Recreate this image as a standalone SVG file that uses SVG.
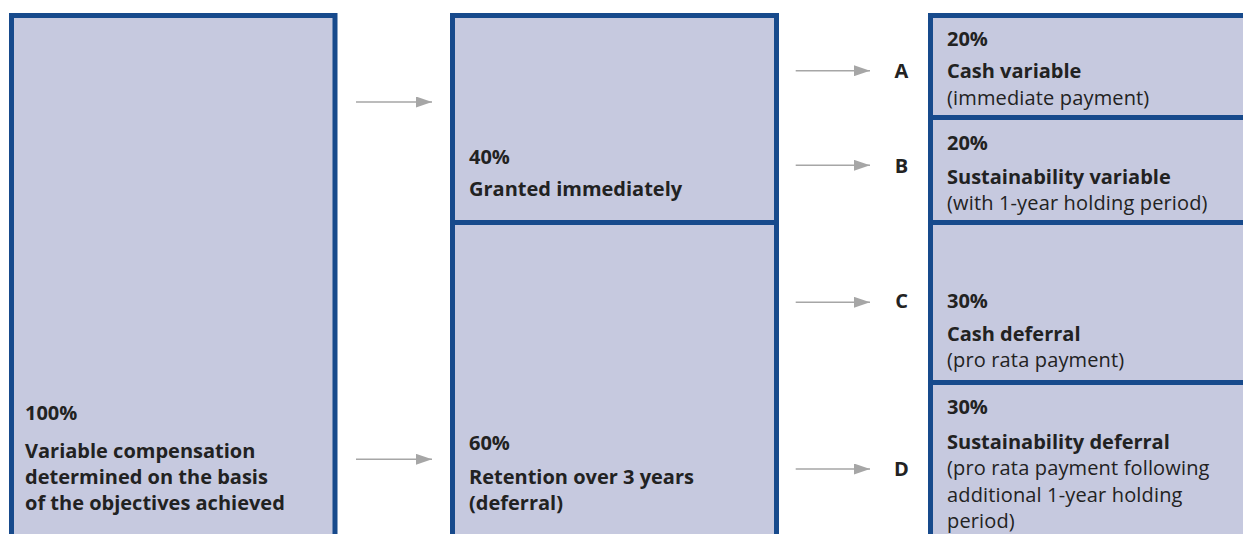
<svg xmlns="http://www.w3.org/2000/svg" width="1243" height="534" viewBox="0 0 1243 534">
<defs>
<style>
.box{fill:#c6c9df;stroke:#174a8c;stroke-width:5}
.b{font-family:"Open Sans","Noto Sans",sans-serif;font-weight:700;font-size:20px;fill:#222}
.r{font-family:"Open Sans","Noto Sans",sans-serif;font-weight:400;font-size:20px;letter-spacing:0.15px;fill:#222}
.lbl{font-family:"Open Sans","Noto Sans",sans-serif;font-weight:700;font-size:20px;fill:#222;text-anchor:middle}
.ln{stroke:#a6a6a6;stroke-width:1.6;fill:none}
</style>
<marker id="ah" markerWidth="16" markerHeight="11" refX="16" refY="5.5" orient="auto" markerUnits="userSpaceOnUse">
<path d="M0,0 L16,5.5 L0,11 Z" fill="#a6a6a6"/>
</marker>
</defs>
<rect width="1243" height="534" fill="#fff"/>
<g id="total">
<rect class="box" x="11.5" y="15.5" width="323.5" height="560"/>
<text class="b" x="25" y="420">100%</text>
<text class="b" x="25" y="458">Variable compensation</text>
<text class="b" x="25" y="484">determined on the basis</text>
<text class="b" x="25" y="510">of the objectives achieved</text>
</g>
<g id="granted">
<rect class="box" x="452.5" y="15.5" width="324" height="207"/>
<text class="b" x="469" y="164">40%</text>
<text class="b" x="469" y="196">Granted immediately</text>
</g>
<g id="retention">
<rect class="box" x="452.5" y="222.5" width="324" height="400"/>
<text class="b" x="469" y="450">60%</text>
<text class="b" x="469" y="484">Retention over 3 years</text>
<text class="b" x="469" y="510">(deferral)</text>
</g>
<g id="a">
<rect class="box" x="930.5" y="15.5" width="400" height="102"/>
<text class="b" x="947" y="45.5">20%</text>
<text class="b" x="947" y="78.3">Cash variable</text>
<text class="r" x="947" y="104.5">(immediate payment)</text>
</g>
<g id="b">
<rect class="box" x="930.5" y="117.5" width="400" height="105"/>
<text class="b" x="947" y="150">20%</text>
<text class="b" x="947" y="184.3">Sustainability variable</text>
<text class="r" x="947" y="210">(with 1-year holding period)</text>
</g>
<g id="c">
<rect class="box" x="930.5" y="222.5" width="400" height="160"/>
<text class="b" x="947" y="308.3">30%</text>
<text class="b" x="947" y="341">Cash deferral</text>
<text class="r" x="947" y="366.5">(pro rata payment)</text>
</g>
<g id="d">
<rect class="box" x="930.5" y="382.5" width="400" height="300"/>
<text class="b" x="947" y="414.3">30%</text>
<text class="b" x="947" y="449">Sustainability deferral</text>
<text class="r" x="947" y="475">(pro rata payment following</text>
<text class="r" x="947" y="501.5">additional 1-year holding</text>
<text class="r" x="947" y="528">period)</text>
</g>
<g id="connectors">
<line class="ln" x1="356" y1="102" x2="432" y2="102" marker-end="url(#ah)"/>
<line class="ln" x1="356" y1="459.3" x2="432" y2="459.3" marker-end="url(#ah)"/>
<line class="ln" x1="795.7" y1="70.7" x2="870" y2="70.7" marker-end="url(#ah)"/>
<line class="ln" x1="795.7" y1="165.3" x2="870" y2="165.3" marker-end="url(#ah)"/>
<line class="ln" x1="795.7" y1="302.3" x2="870" y2="302.3" marker-end="url(#ah)"/>
<line class="ln" x1="795.7" y1="469" x2="870" y2="469" marker-end="url(#ah)"/>
</g>
<g id="labels">
<text class="lbl" x="901.5" y="78.3">A</text>
<text class="lbl" x="901.5" y="173.3">B</text>
<text class="lbl" x="901.5" y="308.3">C</text>
<text class="lbl" x="901.5" y="475.7">D</text>
</g>
</svg>
